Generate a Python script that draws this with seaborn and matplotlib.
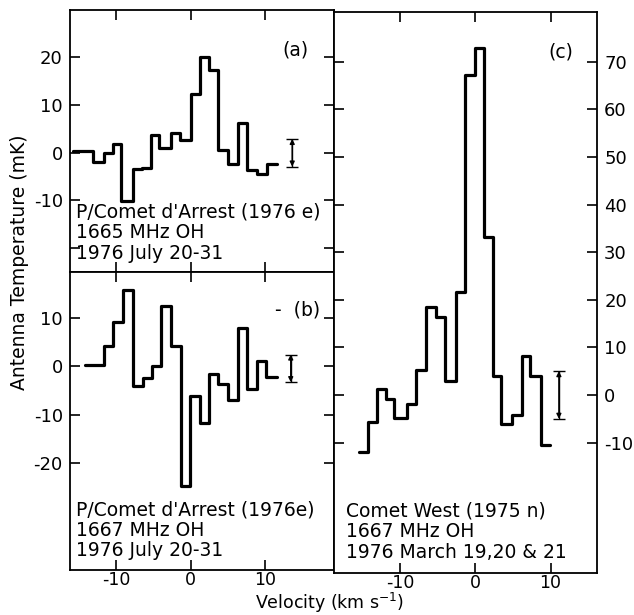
import numpy as np
import seaborn as sns
import matplotlib.pyplot as plt

# (a) P/Comet d'Arrest, 1665 MHz: channel edges (km/s) and temperatures (mK)
edges_a = [-15.9, -13.2, -11.7, -10.5, -9.35, -7.8, -6.6, -5.3, -4.2, -2.6, -1.45,
           0.0, 1.26, 2.48, 3.74, 5.0, 6.45, 7.6, 8.9, 10.3, 11.65]
temp_a = [0.3, -2.0, 0.0, 1.8, -10.1, -3.5, -3.1, 3.8, 1.0, 4.2, 2.7,
          12.4, 20.2, 17.3, 0.6, -2.3, 6.2, -3.7, -4.4, -2.3]
err_a = (13.7, 0.0, 2.9)   # velocity, centre, half-length

# (b) P/Comet d'Arrest, 1667 MHz
edges_b = [-14.3, -11.7, -10.4, -9.1, -7.8, -6.4, -5.2, -4.0, -2.6, -1.3, -0.1,
           1.3, 2.5, 3.7, 5.1, 6.4, 7.6, 9.0, 10.2, 11.6]
temp_b = [0.35, 4.2, 9.1, 15.7, -4.0, -2.4, 0.0, 12.4, 4.2, -24.7,
          -6.0, -11.7, -1.5, -3.6, -6.9, 8.0, -4.65, 1.1, -2.1]
err_b = (13.5, -0.4, 2.85)

# (c) Comet West, 1667 MHz
edges_c = [-15.5, -14.3, -13.1, -11.9, -10.8, -9.1, -7.9, -6.6, -5.3, -4.1, -2.6,
           -1.4, -0.1, 1.1, 2.3, 3.4, 4.9, 6.2, 7.3, 8.7, 9.9]
temp_c = [-11.9, -5.75, 1.2, -0.8, -4.9, -1.9, 5.3, 18.5, 16.3, 3.0,
          21.6, 67.1, 72.9, 33.2, 3.9, -6.2, -4.3, 8.1, 3.9, -10.5]
err_c = (11.1, 0.0, 5.0)

notes_a = "P/Comet d'Arrest (1976 e)\n1665 MHz OH\n1976 July 20-31"
notes_b = "P/Comet d'Arrest (1976e)\n1667 MHz OH\n1976 July 20-31"
notes_c = "Comet West (1975 n)\n1667 MHz OH\n1976 March 19,20 & 21"

sns.set_style("ticks")
plt.rcParams['font.family'] = ['DejaVu Sans']
plt.rcParams['axes.unicode_minus'] = False
plt.rcParams['font.size'] = 13.5
for key in ('text.color', 'xtick.color', 'ytick.color', 'axes.edgecolor',
            'axes.labelcolor'):
    plt.rcParams[key] = 'black'

fig = plt.figure(figsize=(6.34, 6.15), dpi=100)
ax_a = fig.add_axes([0.110, 0.558, 0.417, 0.426])
ax_b = fig.add_axes([0.110, 0.073, 0.417, 0.485])
ax_c = fig.add_axes([0.527, 0.069, 0.415, 0.912])


def draw_spectrum(ax, edges, temps, err):
    y = np.append(temps, temps[-1])
    sns.lineplot(x=edges, y=y, ax=ax, drawstyle='steps-post', color='black',
                 lw=2.3, estimator=None)
    x0, yc, h = err
    ax.errorbar([x0], [yc], yerr=[h], color='black', lw=1, capsize=4, capthick=1)
    ax.annotate('', xy=(x0, yc + h), xytext=(x0, yc - h),
                arrowprops=dict(arrowstyle='<|-|>', color='black', lw=1,
                                mutation_scale=7, shrinkA=0, shrinkB=0))
    for s in ax.spines.values():
        s.set_linewidth(1.3)
    ax.tick_params(direction='in', length=7, width=1.2, top=True, right=True,
                   labelsize=13, pad=5)
    ax.tick_params(axis='x', pad=1, labelsize=12.5)


draw_spectrum(ax_a, edges_a, temp_a, err_a)
draw_spectrum(ax_b, edges_b, temp_b, err_b)
draw_spectrum(ax_c, edges_c, temp_c, err_c)

ax_a.set_xlim(-16.3, 19.35)
ax_a.set_ylim(-25, 30)
ax_a.set_xticks([-10, 0, 10])
ax_a.set_xticklabels([])
ax_a.set_yticks([-20, -10, 0, 10, 20])
ax_a.set_yticklabels(['', '-10', '0', '10', '20'])
ax_a.text(0.852, 0.847, '(a)', transform=ax_a.transAxes, ha='center', va='center')
ax_a.text(0.025, 0.15, notes_a, transform=ax_a.transAxes, ha='left', va='center',
          linespacing=1.1)

ax_b.set_xlim(-16.3, 19.35)
ax_b.set_ylim(-42, 19.5)
ax_b.set_xticks([-10, 0, 10])
ax_b.set_yticks([-20, -10, 0, 10])
ax_b.text(0.86, 0.872, '-  (b)', transform=ax_b.transAxes, ha='center', va='center')
ax_b.text(0.025, 0.134, notes_b, transform=ax_b.transAxes, ha='left', va='center',
          linespacing=1.1)

ax_c.set_xlim(-18.8, 16.2)
ax_c.set_ylim(-37.3, 80.5)
ax_c.set_xticks([-10, 0, 10])
ax_c.set_yticks(np.arange(-10, 80, 10))
ax_c.yaxis.set_ticks_position('both')
ax_c.tick_params(axis='y', labelleft=False, labelright=True)
ax_c.text(0.86, 0.929, '(c)', transform=ax_c.transAxes, ha='center', va='center')
ax_c.text(0.045, 0.073, notes_c, transform=ax_c.transAxes, ha='left', va='center',
          linespacing=1.1)

for ax in (ax_a, ax_b, ax_c):
    ax.set_xlabel('')
    ax.set_ylabel('')

fig.text(0.031, 0.574, 'Antenna Temperature (mK)', rotation=90, ha='center',
         va='center', fontsize=13.5)
fig.text(0.52, 0.0, 'Velocity (km s$^{-1}$)', ha='center', va='bottom',
         fontsize=12.5)

fig.savefig('out.png', dpi=100)
